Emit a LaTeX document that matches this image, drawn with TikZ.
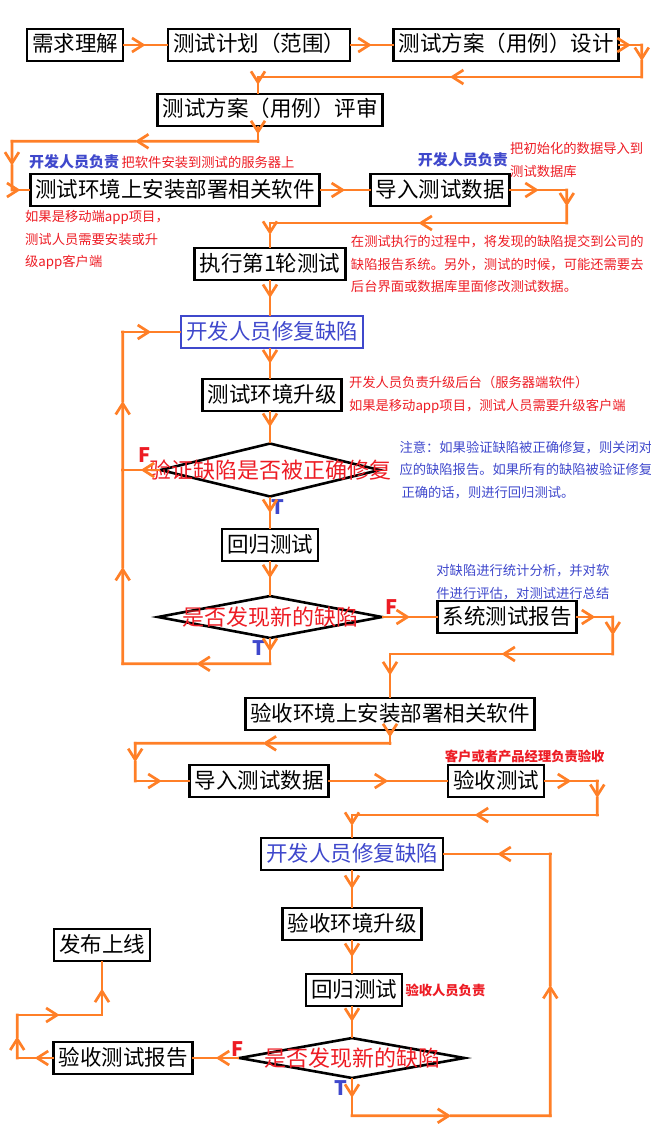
\documentclass[tikz,border=0pt]{standalone}
\usepackage{fontspec}
\setmainfont{Noto Sans CJK SC}
\usetikzlibrary{positioning,shapes.geometric,arrows.meta,calc,decorations.pathreplacing}
\definecolor{pipe}{RGB}{255,127,39}
\definecolor{notered}{RGB}{237,28,36}
\definecolor{noteblue}{RGB}{63,72,204}
\tikzset{
  box/.style={draw, line width=2.6pt, inner xsep=5pt, inner ysep=6pt, text height=17pt, text depth=3pt, font=\fontsize{21.5}{24}\selectfont},
  bluebox/.style={box, draw=noteblue, text=noteblue},
  decision/.style={diamond, draw, line width=2.6pt, inner sep=0pt, text=notered, font=\fontsize{22}{24}\selectfont},
  pipeline/.style={draw=pipe, line width=2.7pt, line cap=rect},
  flow/.style={decorate, decoration={show path construction, lineto code={
      \draw[pipeline, -{Straight Barb[length=11pt,width=14pt]}] (\tikzinputsegmentfirst) -- ($(\tikzinputsegmentfirst)!.5!(\tikzinputsegmentlast)$);
      \draw[pipeline] ($(\tikzinputsegmentfirst)!.5!(\tikzinputsegmentlast)$) -- (\tikzinputsegmentlast);}}},
  note/.style={inner sep=0pt, align=left, text=notered, font=\fontsize{13.3}{22.5}\selectfont},
  bluenote/.style={note, text=noteblue},
  duty/.style={inner sep=0pt, text=noteblue, font=\bfseries\fontsize{15}{18}\selectfont},
  redduty/.style={inner sep=0pt, text=notered, font=\bfseries\fontsize{13.3}{16}\selectfont},
  flagF/.style={inner sep=0pt, text=notered, font=\bfseries\fontsize{20}{20}\selectfont},
  flagT/.style={flagF, text=noteblue},
}
\begin{document}
\begin{tikzpicture}[x=1pt,y=-1pt]
\useasboundingbox (0,0) rectangle (650,1142);
% test round
\node[box] (need) at (75,45) {需求理解};
\node[box] (plan) at (259,45) {测试计划（范围）};
\node[box] (design) at (506,45) {测试方案（用例）设计};
\node[box] (review) at (270,110) {测试方案（用例）评审};
\node[box] (deploy) at (175,190) {测试环境上安装部署相关软件};
\node[box] (data) at (440,190) {导入测试数据};
\node[box] (exec) at (270,264) {执行第1轮测试};
\node[bluebox] (fix) at (272,332) {开发人员修复缺陷};
\node[box] (upg) at (272,395) {测试环境升级};
\node[decision, minimum width=220pt, minimum height=54pt] (check) at (270,470) {\makebox[0pt]{验证缺陷是否被正确修复}};
\node[box] (reg) at (270,545) {回归测试};
\node[decision, minimum width=225pt, minimum height=43pt] (found) at (270,617) {\makebox[0pt]{是否发现新的缺陷}};
\node[box] (report) at (507,617) {系统测试报告};
% acceptance round
\node[box] (adeploy) at (390,714) {验收环境上安装部署相关软件};
\node[box] (adata) at (259,781) {导入测试数据};
\node[box] (acc) at (496,781) {验收测试};
\node[box, text=noteblue] (afix) at (352,854) {开发人员修复缺陷};
\node[box] (aupg) at (352,924) {验收环境升级};
\node[box] (areg) at (354,990) {回归测试};
\node[decision, minimum width=226pt, minimum height=41pt] (afound) at (352,1058) {\makebox[0pt]{是否发现新的缺陷}};
\node[box] (areport) at (123,1058) {验收测试报告};
\node[box] (release) at (102,945) {发布上线};
% notes
\node[duty, anchor=west] (dev1) at (29,162) {开发人员负责};
\node[note, right=2pt of dev1] (deploynote) {把软件安装到测试的服务器上};
\node[note, anchor=west] (datanote) at (510,160) {把初始化的数据导入到\\测试数据库};
\node[duty, left=2pt of datanote] (dev2) {开发人员负责};
\node[note, below right=3pt and -4pt of deploy.south west] (appnote) {如果是移动端app项目，\\测试人员需要安装或升\\级app客户端};
\node[note, right=4pt of exec] (execnote) {在测试执行的过程中，将发现的缺陷提交到公司的\\缺陷报告系统。另外，测试的时候，可能还需要去\\后台界面或数据库里面修改测试数据。};
\node[note, right=6pt of upg] (upgnote) {开发人员负责升级后台（服务器端软件）\\如果是移动app项目，测试人员需要升级客户端};
\node[bluenote, right=18pt of check] (checknote) {注意：如果验证缺陷被正确修复，则关闭对\\应的缺陷报告。如果所有的缺陷被验证修复\\\hspace{2pt}正确的话，则进行回归测试。};
\node[bluenote, above right=0pt and 0pt of report.north west] (reportnote) {对缺陷进行统计分析，并对软\\件进行评估，对测试进行总结};
\node[redduty, above right=1pt and -2pt of acc.north west] (accduty) {客户或者产品经理负责验收};
\node[redduty, right=2pt of areg] (aregduty) {验收人员负责};
% F / T
\node[flagF, above left=7pt and 8pt of check.west] (checkF) {F};
\node[flagT, below right=1pt and 1pt of check.south] (checkT) {T};
\node[flagF, above right=2pt and 1pt of found.east] (foundF) {F};
\node[flagT, below left=1pt and 5pt of found.south] (foundT) {T};
\node[flagF, above=1pt of afound.west] (afoundF) {F};
\node[flagT, below left=1pt and 5pt of afound.south] (afoundT) {T};
% connectors
\path[flow] (need) -- (plan);
\path[flow] (plan) -- (design);
\path[flow] (design.east) -- ++(22,0) -- ++(0,32) -| ([xshift=-12pt]review.north);
\path[flow] ([xshift=-12pt]review.south) -- ++(0,14) -| ([xshift=-17pt]deploy.west) -- (deploy.west);
\path[flow] (deploy) -- (data);
\path[flow] (data.east) -- ++(56,0) -- ++(0,33) -| (exec.north);
\path[flow] (exec) -- (exec |- fix.north);
\path[flow] (exec |- fix.south) -- (exec |- upg.north);
\path[flow] (exec |- upg.south) -- (check);
\path[flow] (check) -- (reg);
\path[flow] (reg) -- (found);
\path[flow] (found) -- (report);
\path[flow] (check.west) -- ++(-36,0);
\path[flow] (found.south) -- ++(0,24) -| ([xshift=-36pt]check.west) |- (fix.west);
\path[flow] (report.east) -- ++(35,0) -- ++(0,37) -| (adeploy.north);
\path[flow] (adeploy.south) -- ++(0,12) -| ([xshift=-53pt]adata.west) -- (adata.west);
\path[flow] (adata) -- (acc);
\path[flow] (acc.east) -- ++(52,0) -- ++(0,34) -| (afix.north);
\path[flow] (afix) -- (aupg);
\path[flow] (aupg) -- (aupg |- areg.north);
\path[flow] (aupg |- areg.south) -- (afound);
\path[flow] (afound.south) -- ++(0,36) -| ([xshift=106pt]afix.east) -- (afix.east);
\path[flow] (afound) -- (areport);
\path[flow] (areport.west) -- ++(-35,0) -- ++(0,-43) -| (release.south);
\end{tikzpicture}
\end{document}
